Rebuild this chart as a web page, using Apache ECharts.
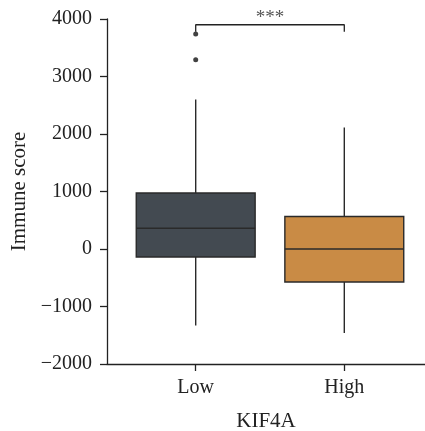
<!DOCTYPE html>
<html>
<head>
<meta charset="utf-8">
<script src="https://cdn.jsdelivr.net/npm/echarts@6/dist/echarts.min.js"></script>
<style>
  html, body { margin: 0; padding: 0; background: #fff; }
  #chart { width: 425px; height: 431px; }
</style>
</head>
<body>
<div id="chart"></div>
<script>
// Groups of KIF4A expression
const categories = ['Low', 'High'];
// Box summaries: [lower whisker, Q1, median, Q3, upper whisker]
const lowBox = [-1330, -140, 360, 975, 2600];
const highBox = [-1460, -575, 0, 565, 2115];
// Points beyond the whiskers
const outliers = [['Low', 3740], ['Low', 3290]];
const boxColors = ['#434a51', '#c98b45'];
// Significance bracket
const sigLevel = 3900;
const sigDrop = 3780;
const sigText = '***';
// Y axis range
const yMin = -2000, yMax = 4000, yStep = 1000;

const font = 'Liberation Serif';
const ink = '#222';
const edge = '#2a2a2a';

const boxes = [lowBox, highBox];
const boxData = categories.map((c, i) => [i].concat(boxes[i]));

// Box with plain whiskers (no end caps), drawn through the axis scales
function renderBox(params, api) {
  const idx = api.value(0);
  const lo = api.coord([idx, api.value(1)]);
  const q1 = api.coord([idx, api.value(2)]);
  const med = api.coord([idx, api.value(3)]);
  const q3 = api.coord([idx, api.value(4)]);
  const hi = api.coord([idx, api.value(5)]);
  const w = api.size([1, 0])[0] * 0.8;
  const x = lo[0];
  const lineStyle = { stroke: edge, lineWidth: 1.4 };
  return {
    type: 'group',
    children: [
      { type: 'line', shape: { x1: x, y1: q3[1], x2: x, y2: hi[1] }, style: lineStyle },
      { type: 'line', shape: { x1: x, y1: q1[1], x2: x, y2: lo[1] }, style: lineStyle },
      { type: 'rect', shape: { x: x - w / 2, y: q3[1], width: w, height: q1[1] - q3[1] },
        style: { fill: boxColors[idx], stroke: edge, lineWidth: 1.4 } },
      { type: 'line', shape: { x1: x - w / 2, y1: med[1], x2: x + w / 2, y2: med[1] }, style: { stroke: edge, lineWidth: 1.6 } }
    ]
  };
}

const chart = echarts.init(document.getElementById('chart'), null, { renderer: 'canvas' });

const option = {
  animation: false,
  backgroundColor: '#fff',
  grid: [
    { left: 107, right: 0, top: 19, bottom: 67, containLabel: false, outerBoundsMode: 'none' },
    { left: 121.4, right: 6.4, top: 19, bottom: 67, containLabel: false, outerBoundsMode: 'none' }
  ],
  xAxis: [
    {
      gridIndex: 0, type: 'value', min: 0, max: 1,
      axisLine: { show: true, onZero: false, lineStyle: { color: ink, width: 1.3 } },
      axisTick: { show: false }, axisLabel: { show: false }, splitLine: { show: false },
      name: 'KIF4A', nameLocation: 'middle', nameGap: 47,
      nameTextStyle: { fontFamily: font, fontSize: 21, color: ink }
    },
    {
      gridIndex: 1, type: 'category', data: categories,
      axisLine: { show: false, onZero: false },
      axisTick: { show: true, alignWithLabel: true, length: 7, lineStyle: { color: ink, width: 1.3 } },
      axisLabel: { fontFamily: font, fontSize: 20, color: ink, margin: 14 },
      splitLine: { show: false }
    }
  ],
  yAxis: [
    {
      gridIndex: 0, type: 'value', min: yMin, max: yMax, interval: yStep,
      axisLine: { show: true, lineStyle: { color: ink, width: 1.3 } },
      axisTick: { show: true, length: 7, lineStyle: { color: ink, width: 1.3 } },
      axisLabel: { fontFamily: font, fontSize: 20, color: ink, margin: 15,
        formatter: v => (v < 0 ? '\u2212' + Math.abs(v) : String(v)) },
      splitLine: { show: false },
      name: 'Immune score', nameLocation: 'middle', nameGap: 76, nameRotate: 90,
      nameTextStyle: { fontFamily: font, fontSize: 21, color: ink }
    },
    {
      gridIndex: 1, type: 'value', min: yMin, max: yMax, interval: yStep, show: false,
      splitLine: { show: false }
    }
  ],
  series: [
    {
      type: 'custom',
      xAxisIndex: 1, yAxisIndex: 1,
      renderItem: renderBox,
      encode: { x: 0, y: [1, 2, 3, 4, 5] },
      data: boxData
    },
    {
      type: 'scatter',
      xAxisIndex: 1, yAxisIndex: 1,
      symbolSize: 5,
      itemStyle: { color: '#111' },
      data: outliers
    },
    {
      type: 'line',
      xAxisIndex: 1, yAxisIndex: 1,
      symbol: 'none',
      lineStyle: { color: ink, width: 1.3 },
      data: [[categories[0], sigDrop], [categories[0], sigLevel], [categories[1], sigLevel], [categories[1], sigDrop]],
      markLine: {
        silent: true, symbol: 'none',
        lineStyle: { color: 'rgba(0,0,0,0)', width: 1, type: 'solid' },
        label: { show: true, position: 'middle', formatter: sigText,
          fontFamily: font, fontSize: 19, color: '#555', distance: -3 },
        data: [[{ coord: [categories[0], sigLevel] }, { coord: [categories[1], sigLevel] }]]
      }
    }
  ]
};

chart.setOption(option);
</script>
</body>
</html>
